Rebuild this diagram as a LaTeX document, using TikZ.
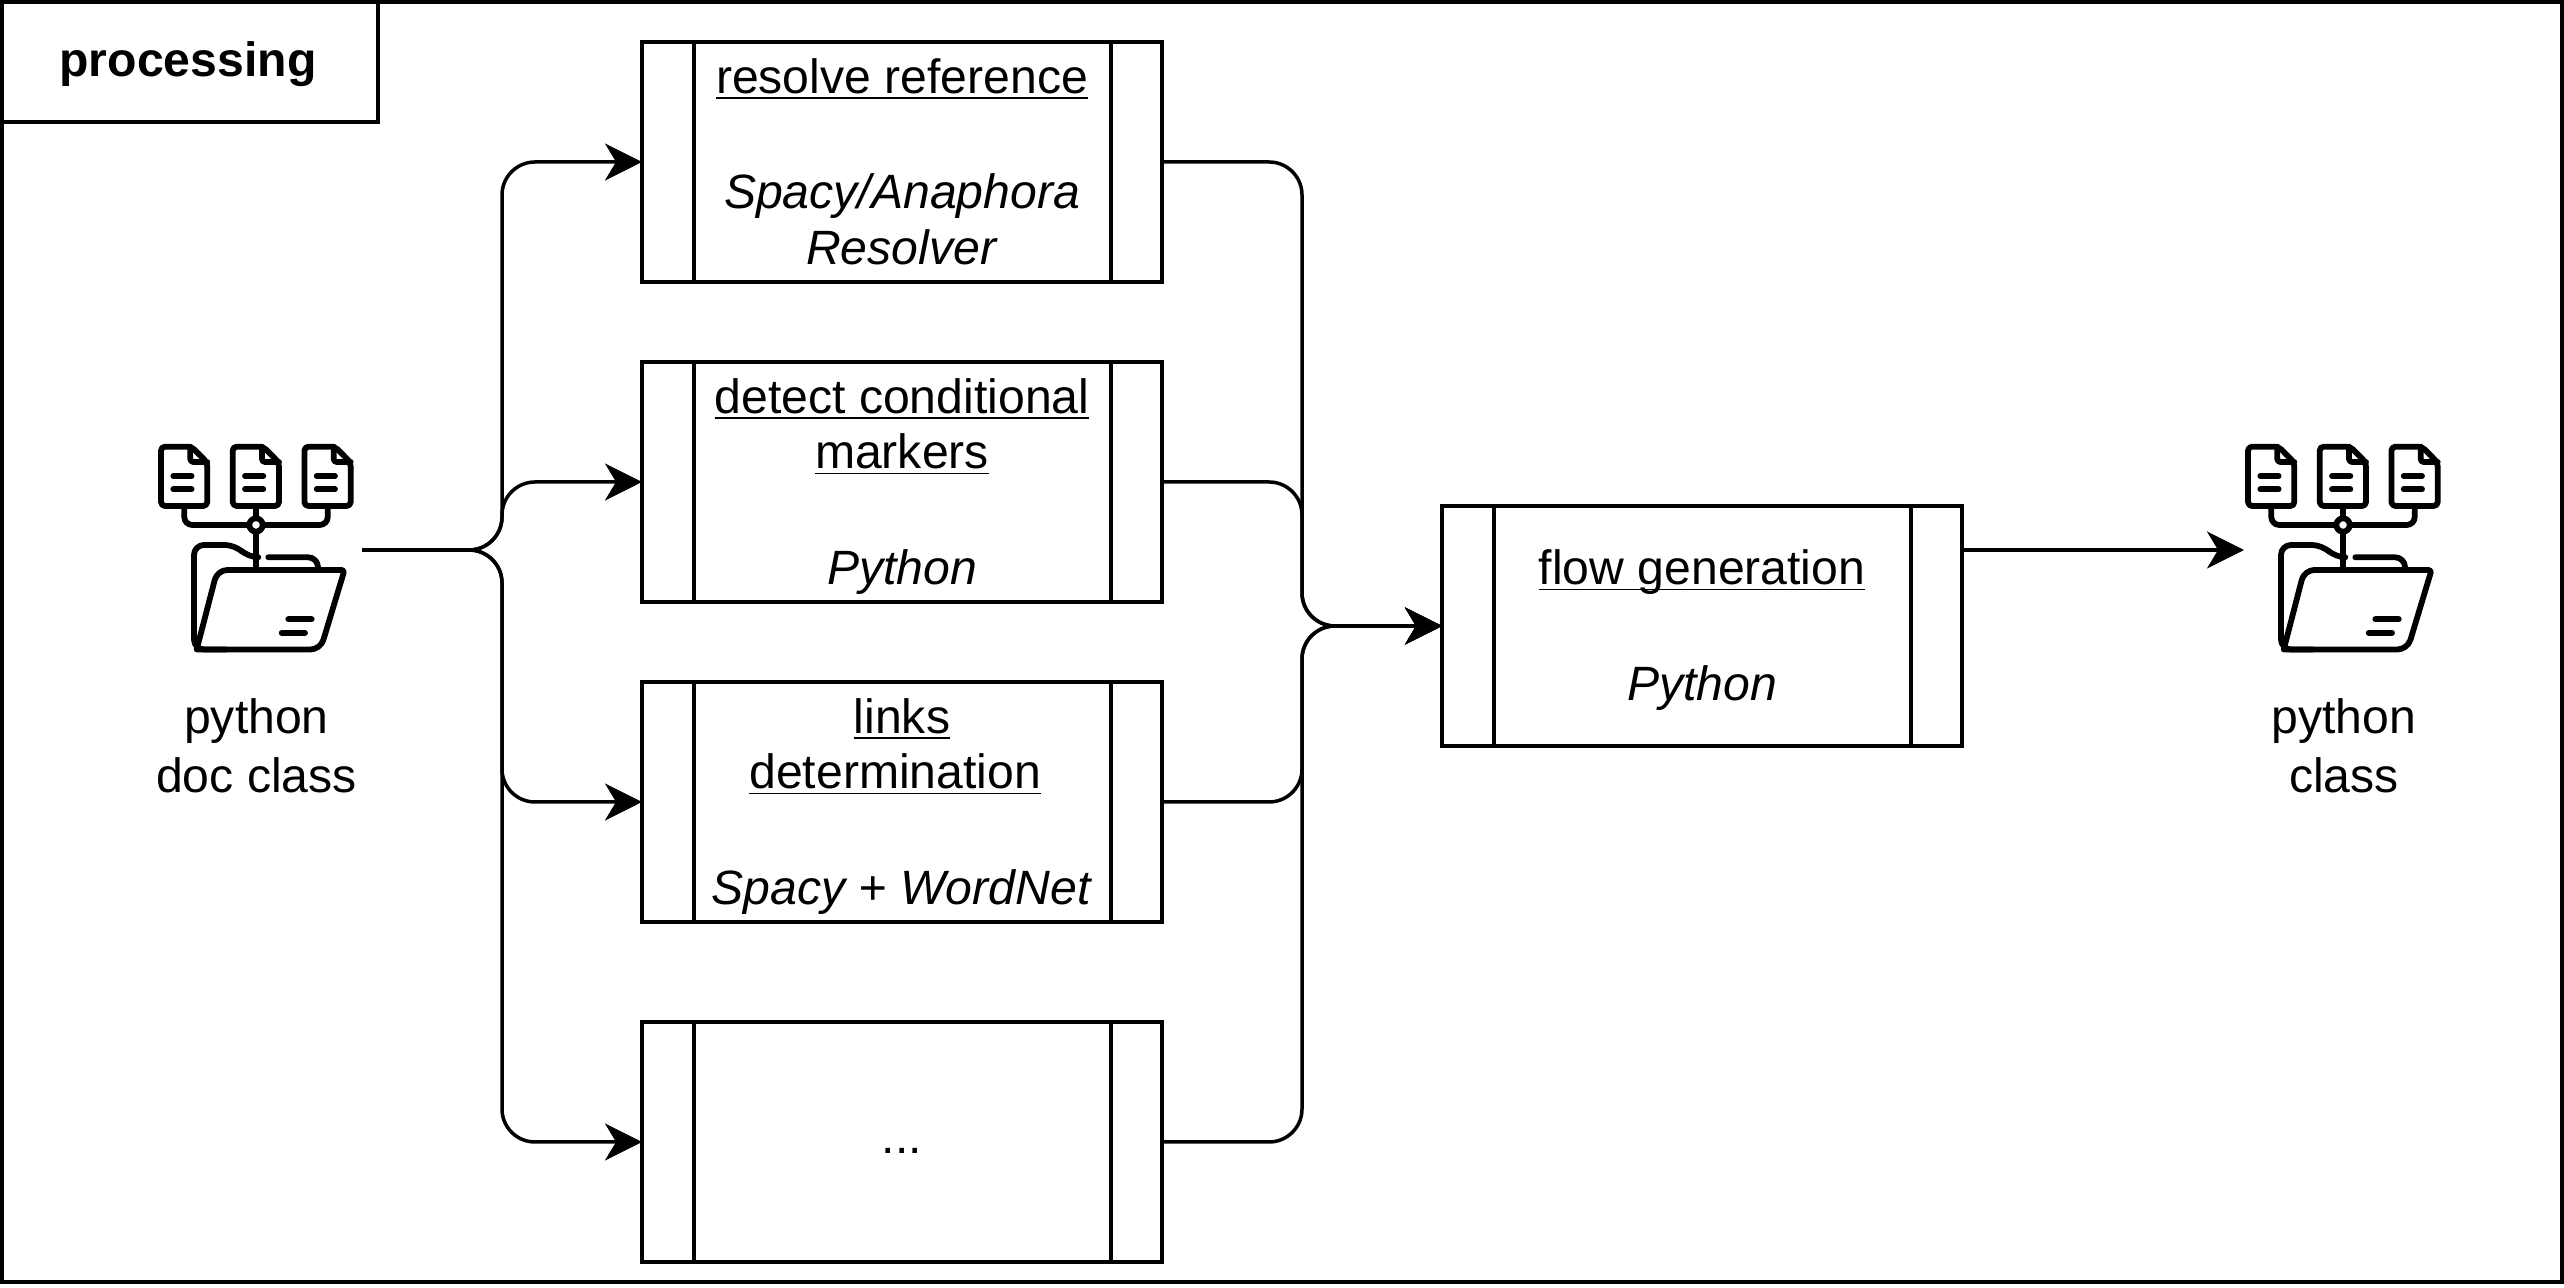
\documentclass[tikz,border=0pt]{standalone}
\usepackage{fontspec}
\setmainfont{Liberation Sans}
\usetikzlibrary{arrows.meta}
\newcommand{\ultext}[1]{\underline{\smash{#1}}}
\newcommand{\topstrut}{\rule[-4.7pt]{0pt}{18.9pt}}
\tikzset{
	boxline/.style={black, line width=0.04cm},
	procbox/.style={boxline, draw, align=center, inner sep=0pt, minimum width=5.2cm, minimum height=2.4cm, font=\fontsize{13.7}{15.76}\selectfont},
	plainlabel/.style={align=center, font=\fontsize{13.7}{16.7}\selectfont},
	conn/.style={black, line width=0.035cm, rounded corners=0.33cm},
	connarrow/.style={conn, shorten >=-0.02cm, -{Stealth[length=0.37cm, width=0.37cm, inset=0.11cm]}},
	iconline/.style={black, line width=0.058cm, line cap=round, line join=round},
	pics/docfolder/.style={code={
		\foreach \dx in {-0.717,0,0.717} {
			\begin{scope}[xshift=\dx cm]
				\draw[iconline, rounded corners=0.04cm] (0.073,0.783) -- (-0.233,0.783) -- (-0.233,0.19) -- (0.23,0.19) -- (0.23,0.623) -- cycle;
				\draw[iconline, rounded corners=0.03cm] (0.06,0.783) -- (0.06,0.63) -- (0.23,0.63);
				\draw[iconline] (-0.11,0.49) -- (0.073,0.49);
				\draw[iconline] (-0.11,0.357) -- (0.073,0.357);
			\end{scope}
		}
		\draw[iconline, rounded corners=0.08cm] (-0.717,0.19) -- (-0.717,0) -- (-0.067,0);
		\draw[iconline, rounded corners=0.08cm] (0.717,0.19) -- (0.717,0) -- (0.067,0);
		\draw[iconline] (0,0.19) -- (0,0.067);
		\draw[iconline] (0,0) circle (0.067);
		\draw[iconline] (0,-0.067) -- (0,-0.45);
		\draw[iconline, rounded corners=0.1cm] (0,-0.323) -- (-0.077,-0.323) -- (-0.21,-0.2) -- (-0.62,-0.2) -- (-0.62,-1.245) -- (-0.3,-1.245);
		\draw[iconline, rounded corners=0.1cm] (0.123,-0.323) -- (0.62,-0.323) -- (0.62,-0.45);
		\draw[iconline, rounded corners=0.1cm] (0.2,-0.45) -- (-0.387,-0.45) [sharp corners] -- (-0.593,-1.245) [rounded corners=0.1cm] -- (0.645,-1.245) [rounded corners=0.03cm] -- (0.885,-0.45) -- (0.2,-0.45);
		\draw[iconline] (0.323,-0.943) -- (0.557,-0.943);
		\draw[iconline] (0.257,-1.077) -- (0.49,-1.077);
	}}
}
\begin{document}
\begin{tikzpicture}
	\useasboundingbox (0,0) rectangle (25.64,12.88);
	\draw[boxline] (0.02,0.06) rectangle (25.62,12.86);
	\node[boxline, draw, minimum width=3.8cm, minimum height=1.22cm, text height=11.8pt, text depth=2.95pt, font=\fontsize{13.7}{16}\selectfont\bfseries] (title) at (1.88,12.27) {processing};

	\node[procbox] (resolve) at (9.02,11.26) {\topstrut\ultext{resolve reference}\\[1.4pt] \\ \textit{Spacy/Anaphora}\\ \textit{Resolver}\strut};
	\node[procbox] (detect) at (9.02,8.06) {\topstrut\ultext{detect conditional}\\ \ultext{markers}\\[1.4pt] \\ \textit{Python}\strut};
	\node[procbox] (links) at (9.02,4.86) {\topstrut\ultext{links}\\ \ultext{determination}~\mbox{}\\[1.4pt] \\ \textit{Spacy + WordNet}\strut};
	\node[procbox] (more) at (9.02,1.46) {\strut...\strut};
	\node[procbox] (flow) at (17.02,6.62) {\topstrut\ultext{flow generation}\\[1.4pt] \\ \textit{Python}\strut};

	\foreach \n in {resolve,detect,links,more,flow} {
		\draw[boxline] ([xshift=0.535cm]\n.north west) -- ([xshift=0.535cm]\n.south west);
		\draw[boxline] ([xshift=-0.535cm]\n.north east) -- ([xshift=-0.535cm]\n.south east);
	}

	\pic at (2.56,7.63) {docfolder};
	\pic at (23.43,7.63) {docfolder};
	\node[plainlabel] (srclabel) at (2.565,5.42) {python\\doc class};
	\node[plainlabel] (dstlabel) at (23.44,5.42) {python\\class};

	\coordinate (srcout) at (3.62,7.38);
	\coordinate (split) at (5.02,7.38);
	\coordinate (merge) at (13.02,6.62);
	\coordinate (dstin) at (22.42,7.38);

	\foreach \n in {resolve,detect,links,more} {
		\draw[connarrow] (srcout) -- (split) |- (\n.west);
		\draw[connarrow] (\n.east) -| (merge) -- (flow.west);
	}
	\draw[connarrow] (flow.east |- dstin) -- (dstin);
\end{tikzpicture}
\end{document}
